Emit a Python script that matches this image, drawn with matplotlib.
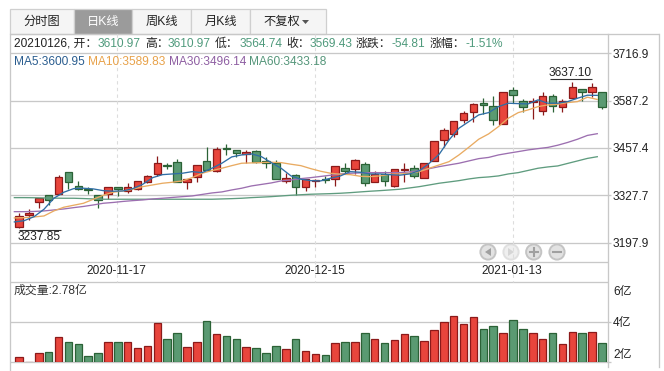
#!/usr/bin/env python3
# -*- coding: utf-8 -*-
import numpy as np
import matplotlib
matplotlib.use("Agg")
import matplotlib.pyplot as plt
from matplotlib.patches import Rectangle, Circle, Polygon

plt.rcParams["font.family"] = ["Liberation Sans", "Noto Sans CJK SC", "DejaVu Sans"]

opens = [3242,3275,3309,3328,3332,3391,3354,3346,3329,3331,3350,3339,3344,3363,3385,3411,3418,3363,3377,3421,
         3393,3456,3451,3440,3448,3421,3416,3368,3383,3351,3368,3373,3372,3402,3399,3413,3365,3386,3354,3397,
         3402,3376,3422,3478,3494,3533,3555,3580,3571,3522,3615,3585,3583,3557,3599,3569,3593,3618,3610,3610.97]
highs = [3280,3289,3321,3328,3382,3391,3368,3351,3329,3350,3350,3361,3366,3382,3434,3415,3426,3372,3410,3459,
         3459,3467,3451,3451,3451,3433,3424,3388,3386,3372,3373,3381,3407,3415,3426,3419,3395,3395,3399,3415,
         3410,3415,3476,3513,3530,3557,3580,3593,3599,3610,3623,3591,3593,3610,3604,3591,3637.1,3618,3634,3610.97]
lows = [3237.85,3260,3294,3300,3330,3346,3341,3330,3294,3318,3325,3335,3342,3361,3380,3399,3363,3346,3365,3393,
        3391,3437,3433,3417,3417,3402,3373,3361,3328,3340,3349,3361,3353,3386,3386,3354,3365,3353,3349,3365,
        3376,3376,3422,3459,3487,3526,3528,3549,3519,3522,3580,3555,3536,3546,3555,3555,3593,3585,3596,3564.74]
closes = [3272,3279,3321,3314,3377,3363,3344,3341,3314,3350,3344,3350,3366,3380,3415,3407,3363,3372,3410,3396,
          3454,3453,3444,3445,3420,3415,3373,3374,3349,3372,3370,3369,3407,3395,3424,3361,3386,3368,3399,3399,
          3381,3415,3476,3506,3530,3552,3577,3574,3533,3610,3601,3569,3585,3599,3571,3585,3623,3610,3624,3569.43]

ma5 = [3254.7,3258.2,3269.2,3289.4,3319.5,3335.9,3345.8,3346.9,3345,3340.3,3338.7,3339.5,3345.8,3357.8,3375.9,
       3384.1,3386,3387.9,3392.3,3389.6,3401.6,3415.3,3432.6,3438,3440.8,3433.4,3417,3401.6,3380.6,3371.5,
       3367.7,3366.9,3374.3,3380.6,3392.3,3390.7,3386,3386,3384.1,3382.5,3386,3395.1,3415.3,3439.9,3479.1,
       3511.1,3529.2,3547.5,3553.8,3570.2,3579.5,3578.4,3577.6,3588.6,3579.5,3579.5,3583.9,3593.2,3601.4,3600.95]
ma10 = [3265.6,3266.4,3268.3,3271.1,3284.8,3294.9,3300.4,3305.8,3316.8,3327.7,3335.9,3339.5,3344.2,3351.3,3355.9,
        3360.6,3363.3,3366.9,3375.9,3387.9,3395.1,3401.6,3408.7,3415.3,3416.2,3417,3418.1,3417,3412.6,3408.7,
        3400.5,3393.4,3387.9,3385.2,3384.1,3379.7,3378.6,3380.6,3385.2,3386,3387.9,3392.3,3401.6,3410.7,3419.7,
        3438,3459.1,3481,3495.5,3515.5,3538.5,3553.8,3561.2,3570.2,3574.9,3576.8,3581.2,3583.9,3596,3589.83]
ma30 = [3282.8,3282.8,3283.4,3284.8,3287.5,3290.2,3293.8,3297.1,3301.2,3305.8,3308,3310.8,3313,3314.9,3317.6,
        3319.5,3321.7,3323.9,3325.8,3329.9,3334,3336.8,3342.2,3346.9,3353.2,3357.3,3361.4,3366.9,3369.6,3373.2,
        3375.9,3379.2,3382.5,3386,3387.9,3388.8,3389.6,3389.6,3389.6,3389.6,3391.5,3395.1,3400.5,3406,3410.7,
        3415.3,3421.6,3427.9,3431.2,3438,3442.7,3447.1,3451.7,3455.3,3458.6,3464.6,3472.2,3481,3491.4,3496.14]
ma60 = [3321.2,3321.2,3320.9,3320.3,3319.8,3319.5,3319.5,3318.7,3317.6,3316.8,3316.8,3316.8,3316.8,3316.8,3316.8,
        3316.8,3316.8,3316.8,3316.8,3316.8,3316.8,3317.6,3318.4,3319.5,3321.2,3322.5,3323.9,3325.8,3327.7,3329.1,
        3330.5,3331.3,3332.1,3333.2,3334.8,3336.8,3338.7,3340.3,3342.2,3344.2,3347.7,3351.3,3355.9,3360.6,3364.1,
        3367.7,3372.3,3375.9,3377.8,3380.6,3386,3389.6,3395.6,3401.6,3405.2,3407.9,3414.8,3421.6,3428.5,3433.18]

# volume in 亿
volumes = [2.28,2.02,2.44,2.49,3.28,2.99,2.89,2.30,2.44,2.99,3.03,3.03,2.69,2.79,3.97,3.18,3.43,2.74,2.99,4.07,
           3.38,3.33,3.18,2.74,2.69,2.44,2.79,2.64,3.18,2.54,2.39,2.34,2.94,2.99,3.03,3.43,3.18,2.94,3.13,3.38,
           3.33,3.08,3.58,4.02,4.32,3.92,4.27,3.67,3.82,3.43,4.12,3.67,3.43,3.18,3.43,2.89,3.48,3.43,3.48,2.94]

price_ticks = [3716.9, 3587.2, 3457.4, 3327.7, 3197.9]
date_idx = [10, 30, 50]
date_labels = ["2020-11-17", "2020-12-15", "2021-01-13"]
tabs = ["分时图", "日K线", "周K线", "月K线", "不复权"]

RED, RED_E = "#e8453c", "#8c1a1a"
GRN, GRN_E = "#5a9a72", "#2b6236"
GRID = "#c8c8c8"
W, H = 664, 371


def main() -> int:
    fig = plt.figure(figsize=(W / 100, H / 100), dpi=100, facecolor="white")

    # Page furniture, in pixel coordinates
    ui = fig.add_axes([0, 0, 1, 1], zorder=0)
    ui.set_xlim(0, W); ui.set_ylim(H, 0); ui.axis("off")

    def hline(y, x0=9.5, x1=607.5, c=GRID, lw=0.95):
        ui.plot([x0, x1], [y, y], color=c, lw=lw, solid_capstyle="butt")

    def vline(x, y0, y1, c=GRID, lw=0.95, **kw):
        ui.plot([x, x], [y0, y1], color=c, lw=lw, **kw)

    tab_edges = [9.5, 73.5, 132, 191, 250, 326]
    for k, name in enumerate(tabs):
        active = k == 1
        ui.add_patch(Rectangle((tab_edges[k], 8.5), tab_edges[k + 1] - tab_edges[k], 25.5,
                               fc="#9b9b9b" if active else "#f5f5f5", ec="#cfcfcf", lw=0.9))
        cx = (tab_edges[k] + tab_edges[k + 1]) / 2 - (6 if k == 4 else 0)
        ui.text(cx, 21.5, name, ha="center", va="center", fontsize=8.8,
                color="white" if active else "#222222")
    ui.add_patch(Polygon([[302, 20], [309, 20], [305.5, 24]], fc="#555555", ec="none"))

    hline(34, 9.5, 658.5)
    vline(9.5, 34, 371); vline(607.5, 34, 367); vline(658.5, 34, 367)
    for y in [53, 100.5, 147.7, 195, 242.7]:
        hline(y, 9.5, 611)
    hline(262); hline(281.7)
    hline(321.7, 9.5, 611); hline(362.3, 9.5, 611)

    fs = 8.55
    for v, y in zip(price_ticks, [55, 102, 149, 197, 244]):
        ui.text(613, y, f"{v:.1f}", va="center", fontsize=fs, color="#222222")
    for s, y in zip(["6亿", "4亿", "2亿"], [292, 323, 355]):
        ui.text(613, y, s, va="center", fontsize=fs, color="#222222")

    # info rows
    dark, up = "#222222", "#4f9a7c"
    info = [(14, "20210126, 开：", dark), (98, "3610.97", up), (145, "高：", dark), (168, "3610.97", up),
            (215, "低：", dark), (240, "3564.74", up), (286, "收：", dark), (310, "3569.43", up),
            (356, "涨跌：", dark), (392, "-54.81", up), (430, "涨幅：", dark), (466, "-1.51%", up)]
    for x, s, c in info:
        ui.text(x, 44, s, va="center", fontsize=fs, color=c)
    mas = [(14, "MA5:3600.95", "#2a5d8f"), (88, "MA10:3589.83", "#e8a24a"),
           (168.7, "MA30:3496.14", "#8e5ea2"), (249, "MA60:3433.18", "#55967a")]
    for x, s, c in mas:
        ui.text(x, 62, s, va="center", fontsize=fs, color=c)
    ui.text(14, 291, "成交量:2.78亿", va="center", fontsize=fs, color="#333333")

    # zoom buttons
    for k, x in enumerate([488, 511, 533.7, 557]):
        light = k == 1
        ui.add_patch(Circle((x, 252), 7.6, fc="#efefef" if light else "#e2e2e2",
                            ec="#e0e0e0" if light else "#c4c4c4", lw=1.4))
        g = "#d5d5d5" if light else "#a0a0a0"
        if k == 0:
            ui.add_patch(Polygon([[491, 248], [491, 256], [485, 252]], fc=g, ec="none"))
        elif k == 1:
            ui.add_patch(Polygon([[508, 248], [508, 256], [514, 252]], fc=g, ec="none"))
        else:
            ui.plot([x - 4, x + 4], [252, 252], color=g, lw=1.5)
            if k == 2:
                ui.plot([x, x], [248, 256], color=g, lw=1.5)

    x = np.arange(len(closes))
    xlim = ((9.5 - 19) / 9.88, (607.5 - 19) / 9.88)
    ax_x0, ax_w = 9.5 / W, (607.5 - 9.5) / W

    # Price panel
    ax = fig.add_axes([ax_x0, 1 - 262 / H, ax_w, (262 - 53) / H], zorder=2)
    ax.patch.set_alpha(0); ax.axis("off")
    ax.set_xlim(*xlim)
    ax.set_ylim(3716.9 - 209 / 0.3655, 3716.9)
    for i, lbl in zip(date_idx, date_labels):
        px = 19 + 9.88 * i
        vline(px - 0.5, 34, 281.7, c="#dddddd", lw=0.8, ls=(0, (3, 3)))
        ui.text(px - 1, 271.5, lbl, ha="center", va="center", fontsize=fs, color="#222222")

    for i in x:
        is_up = closes[i] >= opens[i]
        fc, ec = (RED, RED_E) if is_up else (GRN, GRN_E)
        ax.vlines(i, lows[i], highs[i], color=ec, lw=0.9, zorder=2)
        ax.bar(i, abs(closes[i] - opens[i]), bottom=min(opens[i], closes[i]), width=0.76,
               color=fc, edgecolor=ec, linewidth=0.9, zorder=3)

    line_x = x - 0.47
    ax.plot(line_x, ma60, color="#5f9c7f", lw=0.95, zorder=4)
    ax.plot(line_x, ma30, color="#9c6fb0", lw=0.95, zorder=4)
    ax.plot(line_x, ma10, color="#e9ab62", lw=0.95, zorder=4)
    ax.plot(line_x, ma5, color="#2f6ea5", lw=0.95, zorder=5)

    # High / low notes
    ui.text(570.5, 73, "3637.10", ha="center", va="center", fontsize=fs, color="#222222")
    hline(79, 550, 592, c="#333333", lw=0.8)
    ui.text(39.5, 237.5, "3237.85", ha="center", va="center", fontsize=fs, color="#222222")
    hline(230, 18.5, 61, c="#333333", lw=0.8)

    # Volume panel
    ax_v = fig.add_axes([ax_x0, 1 - 362.3 / H, ax_w, (362.3 - 281.7) / H], zorder=2)
    ax_v.patch.set_alpha(0); ax_v.axis("off")
    ax_v.set_xlim(*xlim)
    ax_v.set_ylim(2, 6)
    colors = [RED if c >= o else GRN for o, c in zip(opens, closes)]
    edges = [RED_E if c >= o else GRN_E for o, c in zip(opens, closes)]
    ax_v.bar(x, np.array(volumes) - 2, bottom=2, width=0.76, color=colors, edgecolor=edges, linewidth=0.9)

    fig.savefig("out.png", dpi=100)
    plt.close(fig)
    return 0


if __name__ == "__main__":
    raise SystemExit(main())
